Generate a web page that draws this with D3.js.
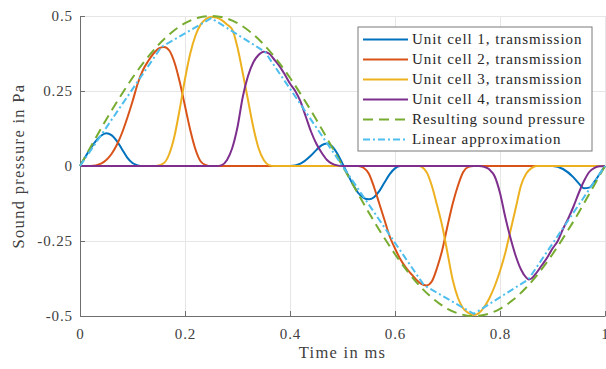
<!DOCTYPE html>
<html lang="en">
<head>
  <meta charset="utf-8">
  <title>Unit cell transmission</title>
  <style>
    body { margin: 0; background: #fff; }
    svg { display: block; font-family: "Liberation Serif", serif; }
    .axis text { fill: #404040; font-size: 15px; letter-spacing: 0.9px; font-family: "Liberation Serif", serif; }
    .axis path, .axis line { stroke: #6e6e6e; }
    .grid line { stroke: #e6e6e6; }
    .grid path { display: none; }
    .label { fill: #404040; font-size: 16.5px; letter-spacing: 1.3px; }
    .legend-text { fill: #262626; font-size: 15px; letter-spacing: 0.95px; }
  </style>
  <script src="https://d3js.org/d3.v7.min.js"></script>
</head>
<body>
<script>

    // values, [time in ms, pressure in Pa]
    let cell1 = [
        [0,0],[0.01,0.03],[0.02,0.058],[0.03,0.083],[0.04,0.101],[0.05,0.109],[0.06,0.103],[0.07,0.084],
        [0.08,0.056],[0.09,0.028],[0.10,0.01],[0.11,0.002],[0.12,0],
        [0.40,0],[0.42,0.008],[0.44,0.035],[0.45,0.053],[0.46,0.069],[0.47,0.075],[0.48,0.066],[0.49,0.042],
        [0.50,0.008],[0.51,-0.028],[0.52,-0.062],[0.53,-0.09],[0.54,-0.106],[0.55,-0.111],[0.56,-0.104],
        [0.57,-0.084],[0.58,-0.055],[0.59,-0.027],[0.60,-0.008],[0.61,0],
        [0.90,0],[0.92,-0.01],[0.94,-0.038],[0.95,-0.058],[0.96,-0.074],[0.97,-0.072],[0.98,-0.052],
        [0.99,-0.026],[1,0]
    ]
    let cell2 = [
        [0,0],[0.02,0],[0.04,0.008],[0.05,0.02],[0.06,0.04],[0.07,0.07],[0.08,0.11],[0.09,0.16],[0.10,0.215],
        [0.11,0.275],[0.12,0.32],[0.13,0.35],[0.14,0.375],[0.15,0.392],[0.16,0.397],[0.17,0.385],[0.18,0.345],
        [0.19,0.28],[0.20,0.2],[0.21,0.12],[0.22,0.055],[0.23,0.015],[0.24,0.003],[0.25,0],
        [0.53,0],[0.54,-0.006],[0.55,-0.025],[0.56,-0.07],[0.57,-0.125],[0.58,-0.18],[0.59,-0.235],[0.60,-0.275],
        [0.61,-0.31],[0.62,-0.337],[0.63,-0.358],[0.64,-0.378],[0.65,-0.393],[0.66,-0.398],[0.67,-0.385],
        [0.68,-0.34],[0.69,-0.28],[0.70,-0.2],[0.71,-0.125],[0.72,-0.065],[0.73,-0.02],[0.74,-0.003],[0.75,0],
        [1,0]
    ]
    let cell3 = [
        [0,0],[0.145,0],[0.16,0.01],[0.17,0.04],[0.18,0.1],[0.19,0.19],[0.20,0.29],[0.21,0.375],[0.22,0.435],
        [0.23,0.472],[0.24,0.49],[0.25,0.497],[0.26,0.495],[0.27,0.486],[0.28,0.472],[0.29,0.455],[0.30,0.395],
        [0.31,0.31],[0.32,0.22],[0.33,0.13],[0.34,0.06],[0.35,0.02],[0.36,0.003],[0.37,0],
        [0.645,0],[0.66,-0.02],[0.67,-0.065],[0.68,-0.13],[0.69,-0.2],[0.70,-0.29],[0.71,-0.38],[0.72,-0.44],
        [0.73,-0.475],[0.74,-0.49],[0.75,-0.497],[0.76,-0.49],[0.77,-0.47],[0.78,-0.44],[0.79,-0.4],[0.80,-0.35],
        [0.81,-0.29],[0.82,-0.215],[0.83,-0.14],[0.84,-0.065],[0.85,-0.025],[0.86,-0.007],[0.87,0],
        [1,0]
    ]
    let cell4 = [
        [0,0],[0.26,0],[0.27,0.003],[0.28,0.02],[0.29,0.06],[0.30,0.13],[0.31,0.23],[0.32,0.3],[0.33,0.345],
        [0.34,0.37],[0.35,0.381],[0.36,0.375],[0.37,0.355],[0.38,0.333],[0.39,0.305],[0.40,0.275],[0.41,0.25],
        [0.42,0.215],[0.43,0.165],[0.44,0.115],[0.45,0.075],[0.46,0.045],[0.47,0.021],[0.48,0.008],[0.49,0.002],
        [0.50,0],
        [0.76,0],[0.77,-0.003],[0.78,-0.012],[0.79,-0.035],[0.80,-0.09],[0.81,-0.17],[0.82,-0.24],[0.83,-0.3],
        [0.84,-0.345],[0.85,-0.372],[0.855,-0.378],[0.86,-0.375],[0.87,-0.355],[0.88,-0.33],[0.89,-0.305],
        [0.90,-0.275],[0.91,-0.25],[0.92,-0.21],[0.93,-0.175],[0.94,-0.135],[0.95,-0.09],[0.96,-0.05],
        [0.97,-0.02],[0.98,-0.006],[0.99,-0.001],[1,0]
    ]
    let resulting = [
        [0,0],[0.025,0.078],[0.05,0.155],[0.075,0.227],[0.1,0.294],[0.125,0.354],[0.15,0.405],[0.175,0.446],
        [0.2,0.476],[0.225,0.494],[0.25,0.5],[0.275,0.494],[0.3,0.476],[0.325,0.446],[0.35,0.405],[0.375,0.354],
        [0.4,0.294],[0.425,0.227],[0.45,0.155],[0.475,0.078],[0.5,0],[0.525,-0.078],[0.55,-0.155],[0.575,-0.227],
        [0.6,-0.294],[0.625,-0.354],[0.65,-0.405],[0.675,-0.446],[0.7,-0.476],[0.725,-0.494],[0.75,-0.5],
        [0.775,-0.494],[0.8,-0.476],[0.825,-0.446],[0.85,-0.405],[0.875,-0.354],[0.9,-0.294],[0.925,-0.227],
        [0.95,-0.155],[0.975,-0.078],[1,0]
    ]
    let linearApprox = [
        [0,0],[0.155,0.397],[0.25,0.493],[0.352,0.381],[0.5,0],[0.655,-0.397],[0.75,-0.493],[0.854,-0.378],[1,0]
    ]

    let xTicks = [0, 0.2, 0.4, 0.6, 0.8, 1]
    let yTicks = [-0.5, -0.25, 0, 0.25, 0.5]
    let yTickLabels = ["-0.5", "-0.25", "0", "0.25", "0.5"]
    let seriesNames = ["Unit cell 1, transmission", "Unit cell 2, transmission", "Unit cell 3, transmission",
                       "Unit cell 4, transmission", "Resulting sound pressure", "Linear approximation"]

    let width = 606
    let height = 369
    let padLeft = 80, padRight = 605, padTop = 16, padBottom = 316

    let series = [
        {data: cell1, color: "#0072BD", dash: null, curve: d3.curveMonotoneX},
        {data: cell2, color: "#D95319", dash: null, curve: d3.curveMonotoneX},
        {data: cell3, color: "#EDB120", dash: null, curve: d3.curveMonotoneX},
        {data: cell4, color: "#7E2F8E", dash: null, curve: d3.curveMonotoneX},
        {data: resulting, color: "#77AC30", dash: "10,6", curve: d3.curveNatural},
        {data: linearApprox, color: "#4DBEEE", dash: "7,3,2,3", curve: d3.curveLinear}
    ]

    let svg = d3.select("body").append("svg")
        .attr("width", width)
        .attr("height", height)

    let xScale = d3.scaleLinear().domain([0, 1]).range([padLeft, padRight])
    let yScale = d3.scaleLinear().domain([-0.5, 0.5]).range([padBottom, padTop])

    // grid
    svg.append("g")
        .attr("class", "grid")
        .attr("transform", `translate(0, ${padBottom})`)
        .call(d3.axisBottom(xScale).tickValues(xTicks).tickSize(-(padBottom - padTop)).tickFormat(""))
    svg.append("g")
        .attr("class", "grid")
        .attr("transform", `translate(${padLeft}, 0)`)
        .call(d3.axisLeft(yScale).tickValues(yTicks).tickSize(-(padRight - padLeft)).tickFormat(""))

    // axes, ticks pointing inwards
    svg.append("g")
        .attr("class", "axis")
        .attr("transform", `translate(0, ${padBottom})`)
        .call(d3.axisBottom(xScale).tickValues(xTicks).tickSizeInner(-5).tickSizeOuter(0).tickPadding(12)
              .tickFormat(d3.format("")))
    svg.append("g")
        .attr("class", "axis")
        .attr("transform", `translate(${padLeft}, 0)`)
        .call(d3.axisLeft(yScale).tickValues(yTicks).tickSizeInner(-5).tickSizeOuter(0).tickPadding(7)
              .tickFormat((d, i) => yTickLabels[i]))

    let line = d3.line()
        .x(d => xScale(d[0]))
        .y(d => yScale(d[1]))

    series.forEach(s => {
        svg.append("path")
            .datum(s.data)
            .attr("fill", "none")
            .attr("stroke", s.color)
            .attr("stroke-width", 2)
            .attr("stroke-dasharray", s.dash)
            .attr("d", line.curve(s.curve))
    })

    // axis labels
    svg.append("text")
        .attr("class", "label")
        .attr("x", (padLeft + padRight) / 2)
        .attr("y", 358)
        .attr("text-anchor", "middle")
        .text("Time in ms")
    svg.append("text")
        .attr("class", "label")
        .attr("transform", `translate(24, ${(padTop + padBottom) / 2}) rotate(-90)`)
        .attr("text-anchor", "middle")
        .text("Sound pressure in Pa")

    // legend
    let legend = svg.append("g").attr("transform", "translate(358, 27)")
    legend.append("rect")
        .attr("width", 234)
        .attr("height", 124)
        .attr("fill", "#fff")
        .attr("stroke", "#7a7a7a")
        .attr("stroke-width", 1)
    series.forEach((s, i) => {
        let yy = 12.5 + i * 20
        legend.append("line")
            .attr("x1", 5).attr("x2", 50)
            .attr("y1", yy).attr("y2", yy)
            .attr("stroke", s.color)
            .attr("stroke-width", 2)
            .attr("stroke-dasharray", s.dash)
        legend.append("text")
            .attr("class", "legend-text")
            .attr("x", 54)
            .attr("y", yy)
            .attr("dy", "0.33em")
            .text(seriesNames[i])
    })

</script>
</body>
</html>
